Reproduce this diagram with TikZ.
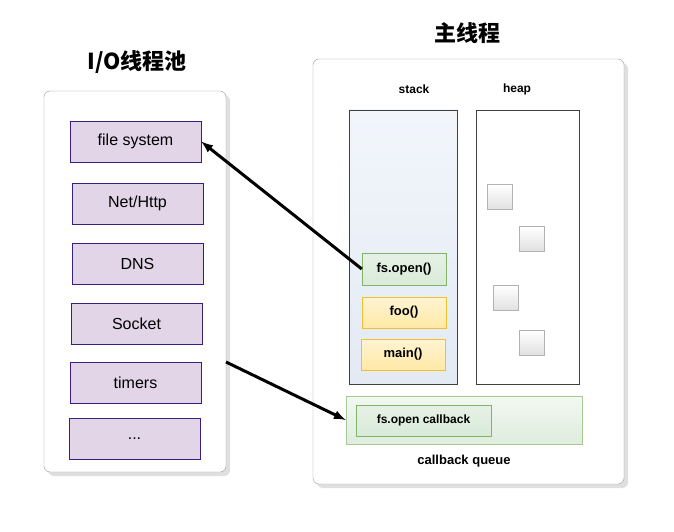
\documentclass[tikz,border=0pt]{standalone}
\usepackage{fontspec}
\setmainfont{Liberation Sans}
\newfontfamily\cjk{Noto Sans CJK SC}
\usetikzlibrary{shadows}
\definecolor{ioFill}{HTML}{E1D5E7}
\definecolor{ioLine}{HTML}{3A1F80}
\definecolor{okFill}{HTML}{D5E8D4}
\definecolor{okLine}{HTML}{82B366}
\definecolor{fnFill}{HTML}{FFE9A6}
\definecolor{fnLine}{HTML}{F0C030}
\definecolor{stkTop}{HTML}{F2F6FB}
\definecolor{stkBot}{HTML}{E3EAF4}
\begin{document}
\begin{tikzpicture}[x=1pt,y=-1pt]
  \tikzstyle{panel}=[draw=black!40, rounded corners=6pt, fill=white, drop shadow={shadow xshift=4pt, shadow yshift=-4pt, fill=black!25}]
  \tikzstyle{io}=[draw=ioLine, fill=ioFill, font=\fontsize{16}{18}\selectfont]
  \tikzstyle{frame}=[draw=okLine, top color=okFill!60, bottom color=okFill!100!black!90, font=\bfseries\fontsize{13}{15}\selectfont]
  \tikzstyle{call}=[draw=fnLine, top color=fnFill!50, bottom color=fnFill, font=\bfseries\fontsize{13}{15}\selectfont]
  \tikzstyle{obj}=[draw=black!30, top color=white, bottom color=black!12]
  \tikzstyle{flow}=[line width=3pt, -latex]

  \useasboundingbox (0,0) rectangle (674,532);

  % I/O thread pool
  \node[font=\cjk\bfseries\fontsize{22}{26}\selectfont] (pooltitle) at (137,62) {I/O线程池};
  \path[panel] (44,91) rectangle (226,472);
  \node[io, minimum width=131pt, minimum height=41pt] (fs) at (135.5,141.5) {file system};
  \node[io, minimum width=131pt, minimum height=41pt] (net) at (137.5,203.5) {Net/Http};
  \node[io, minimum width=131pt, minimum height=41pt] (dns) at (137.5,263.5) {DNS};
  \node[io, minimum width=131pt, minimum height=41pt] (sock) at (136.5,323.5) {Socket};
  \node[io, minimum width=131pt, minimum height=41pt] (tmr) at (135.5,382.5) {timers};
  \node[io, minimum width=131pt, minimum height=41pt] (more) at (134.5,438.5) {...};

  % main thread
  \node[font=\cjk\bfseries\fontsize{22}{26}\selectfont] (maintitle) at (467,33) {主线程};
  \path[panel] (313,59) rectangle (624,484);
  \node[font=\bfseries\fontsize{12}{14}\selectfont] (stacklbl) at (414,89) {stack};
  \node[font=\bfseries\fontsize{12}{14}\selectfont] (heaplbl) at (517,89) {heap};
  \path[draw=black!75, top color=stkTop, bottom color=stkBot] (349,110) rectangle (457,384);
  \path[draw=black!75, fill=white] (476,110) rectangle (579,384);

  \node[frame, minimum width=84pt, minimum height=32pt] (open) at (404,269) {fs.open()};
  \node[call, minimum width=84pt, minimum height=31pt] (foo) at (404,312.5) {foo()};
  \node[call, minimum width=84pt, minimum height=31pt] (main) at (403,354.5) {main()};

  \foreach \x/\y in {500/197, 532/239, 506/298, 532/343}
    \path[obj] (\x-12.5,\y-12.5) rectangle (\x+12.5,\y+12.5);

  \node[draw=okLine!70, top color=okFill!30, bottom color=okFill!80, minimum width=236pt, minimum height=48pt] (queue) at (464,420) {};
  \node[frame, minimum width=135pt, minimum height=31pt, font=\bfseries\fontsize{12}{14}\selectfont] (cb) at (423.5,420.5) {fs.open callback};
  \node[font=\bfseries\fontsize{13}{15}\selectfont] (queuelbl) at (464,461) {callback queue};

  \draw[flow] (open.west) -- (fs.east);
  \draw[flow] (226,362) -- (queue.west);
\end{tikzpicture}
\end{document}
